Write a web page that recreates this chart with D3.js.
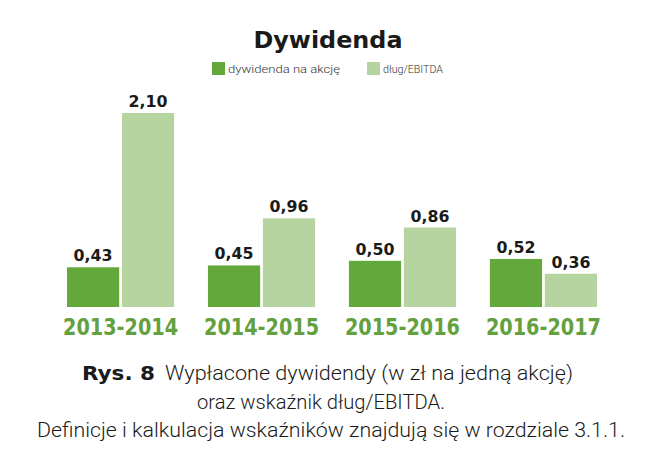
<!DOCTYPE html>
<html><head><meta charset="utf-8">
<script src="https://cdn.jsdelivr.net/npm/d3@7"></script>
<style>body{margin:0;background:#fff}</style>
</head><body>
<svg id="c" width="656" height="462"></svg>
<script>
const categories = ["2013-2014", "2014-2015", "2015-2016", "2016-2017"];
const dywidenda = [0.43, 0.45, 0.50, 0.52];
const dlugEbitda = [2.10, 0.96, 0.86, 0.36];
const seriesNames = ["dywidenda na akcję", "dług/EBITDA"];
const title = "Dywidenda";
const captionLines = ["Wypłacone dywidendy (w zł na jedną akcję)", "oraz wskaźnik dług/EBITDA.", "Definicje i kalkulacja wskaźników znajdują się w rozdziale 3.1.1."];

const dark = "#62a83a", light = "#b6d4a0", catColor = "#63a03e";
const svg = d3.select("#c");
const heavyFont = "'DejaVu Sans', sans-serif";
const lightFont = "Roboto, 'Open Sans', sans-serif";
const fmt = v => d3.format(".2f")(v).replace(".", ",");

const x0 = d3.scaleBand().domain(categories).range([67, 597]).paddingInner(0.24).paddingOuter(0);
const x1 = d3.scaleBand().domain([0, 1]).range([0, x0.bandwidth()]).paddingInner(0.05);
const y = d3.scaleLinear().domain([0, 2.10]).range([307, 113]);

// title
svg.append("text").attr("x", 328).attr("y", 48).attr("text-anchor", "middle")
  .attr("font-family", heavyFont).attr("font-weight", 700).attr("font-size", 23)
  .attr("textLength", 149).attr("lengthAdjust", "spacingAndGlyphs").attr("fill", "#1a1a1a").text(title);

// legend
const leg = [{x: 212, t: seriesNames[0], c: dark, w: 112}, {x: 367, t: seriesNames[1], c: light, w: 60}];
leg.forEach(l => {
  svg.append("rect").attr("x", l.x).attr("y", 62).attr("width", 13).attr("height", 13).attr("fill", l.c);
  svg.append("text").attr("x", l.x + 16).attr("y", 73).attr("font-family", lightFont)
    .attr("font-weight", 300).attr("font-size", 10).attr("fill", "#333")
    .attr("textLength", l.w).attr("lengthAdjust", "spacingAndGlyphs").text(l.t);
});

const data = categories.map((c, i) => ({c, vals: [dywidenda[i], dlugEbitda[i]]}));
const g = svg.selectAll("g.grp").data(data).enter().append("g").attr("class", "grp")
  .attr("transform", d => `translate(${x0(d.c)},0)`);
g.selectAll("rect").data(d => d.vals.map((v, k) => ({v, k}))).enter().append("rect")
  .attr("x", d => x1(d.k)).attr("width", x1.bandwidth())
  .attr("y", d => y(d.v)).attr("height", d => y(0) - y(d.v))
  .attr("fill", d => d.k === 0 ? dark : light);
g.selectAll("text.val").data(d => d.vals.map((v, k) => ({v, k}))).enter().append("text")
  .attr("class", "val").attr("x", d => x1(d.k) + x1.bandwidth() / 2).attr("y", d => y(d.v) - 6)
  .attr("text-anchor", "middle").attr("font-family", heavyFont).attr("font-weight", 700)
  .attr("font-size", 15).attr("textLength", 39).attr("lengthAdjust", "spacingAndGlyphs")
  .attr("fill", "#1a1a1a").text(d => fmt(d.v));

// category axis labels
svg.selectAll("text.cat").data(categories).enter().append("text").attr("class", "cat")
  .attr("x", d => x0(d) + x0.bandwidth() / 2).attr("y", 335).attr("text-anchor", "middle")
  .attr("font-family", heavyFont).attr("font-weight", 700).attr("font-size", 23)
  .attr("textLength", 115).attr("lengthAdjust", "spacingAndGlyphs").attr("fill", catColor).text(d => d);

// caption
const cap1 = svg.append("text").attr("y", 380).attr("font-size", 21).attr("fill", "#1a1a1a");
cap1.append("tspan").attr("x", 82).attr("font-family", heavyFont).attr("font-weight", 700)
  .attr("font-size", 20).attr("textLength", 73).attr("lengthAdjust", "spacingAndGlyphs").text("Rys. 8");
cap1.append("tspan").attr("x", 165).attr("font-family", lightFont).attr("font-weight", 300)
  .attr("textLength", 408).attr("lengthAdjust", "spacingAndGlyphs").text(captionLines[0]);
svg.append("text").attr("x", 197).attr("y", 409).attr("font-size", 21).attr("fill", "#1a1a1a")
  .attr("font-family", lightFont).attr("font-weight", 300)
  .attr("textLength", 248).attr("lengthAdjust", "spacingAndGlyphs").text(captionLines[1]);
svg.append("text").attr("x", 37).attr("y", 437).attr("font-size", 21).attr("fill", "#1a1a1a")
  .attr("font-family", lightFont).attr("font-weight", 300)
  .attr("textLength", 588).attr("lengthAdjust", "spacingAndGlyphs").text(captionLines[2]);
</script>
</body></html>
